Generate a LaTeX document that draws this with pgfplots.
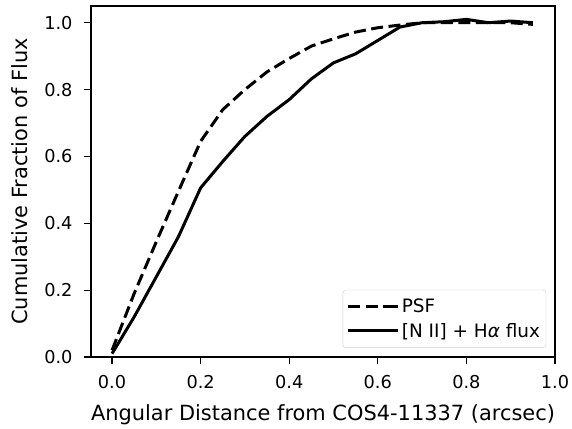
\documentclass[border=0pt]{standalone}
\usepackage{pgfplots}
\pgfplotsset{compat=1.18}
\usepackage{fontspec}
\setmainfont{DejaVu Sans}

\begin{document}
\begin{tikzpicture}
\begin{axis}[
  name=ax,
  scale only axis,
  width=464bp, height=351bp,
  xmin=-0.0475, xmax=1.0,
  ymin=0, ymax=1.05,
  xtick={0,0.2,0.4,0.6,0.8,1.0},
  ytick={0,0.2,0.4,0.6,0.8,1.0},
  /pgf/number format/assume math mode=true,
  /pgf/number format/.cd, fixed, fixed zerofill, precision=1, /pgfplots/.cd,
  tick align=outside, tick pos=left,
  major tick length=7bp,
  every tick/.style={black, line width=1.2bp},
  axis line style={line width=1.2bp},
  tick label style={font=\fontsize{17.8}{20}\selectfont},
  xticklabel style={yshift=-8bp},
  yticklabel style={xshift=-8bp},
  label style={font=\fontsize{21}{24}\selectfont},
  xlabel={Angular Distance from COS4-11337 (arcsec)},
  ylabel={Cumulative Fraction of Flux},
  xlabel style={at={(axis description cs:0.5,-0.1823)}, anchor=base},
  ylabel style={at={(axis description cs:-0.153,0.5)}, anchor=center, rotate=0},
  legend style={at={(0.981,0.026)}, anchor=south east,
    draw=black!20, rounded corners=3bp, fill=white,
    font=\fontsize{18.5}{22}\selectfont, row sep=5bp,
    inner xsep=4bp, inner ysep=7bp},
  legend cell align=left,
  legend image code/.code={\draw[#1] (0bp,0bp) -- (40bp,0bp); \path (40bp,0bp) -- (50bp,0bp);},
]
\addplot[black, line width=3bp, dash pattern=on 12bp off 5.5bp] coordinates {
(0.00,0.02) (0.05,0.19) (0.10,0.345) (0.15,0.496) (0.20,0.645)
(0.25,0.74) (0.30,0.80) (0.35,0.853) (0.40,0.893) (0.45,0.93)
(0.50,0.952) (0.55,0.972) (0.60,0.985) (0.65,0.993) (0.70,1.0)
(0.75,1.0) (0.80,1.0) (0.85,1.0) (0.90,1.0) (0.95,0.995)
};
\addlegendentry{PSF}
\addplot[black, line width=3bp] coordinates {
(0.00,0.01) (0.05,0.12) (0.10,0.24) (0.15,0.36) (0.20,0.506)
(0.25,0.585) (0.30,0.66) (0.35,0.72) (0.40,0.77) (0.45,0.832)
(0.50,0.88) (0.55,0.907) (0.60,0.947) (0.65,0.987) (0.70,1.0)
(0.75,1.003) (0.80,1.01) (0.85,1.0) (0.90,1.005) (0.95,1.0)
};
\addlegendentry{[N II] + H\textit{α} flux}
\end{axis}
\pgfresetboundingbox
\path ([shift={(-91bp,-72bp)}]ax.south west) rectangle ([shift={(17bp,6bp)}]ax.north east);
\end{tikzpicture}
\end{document}
